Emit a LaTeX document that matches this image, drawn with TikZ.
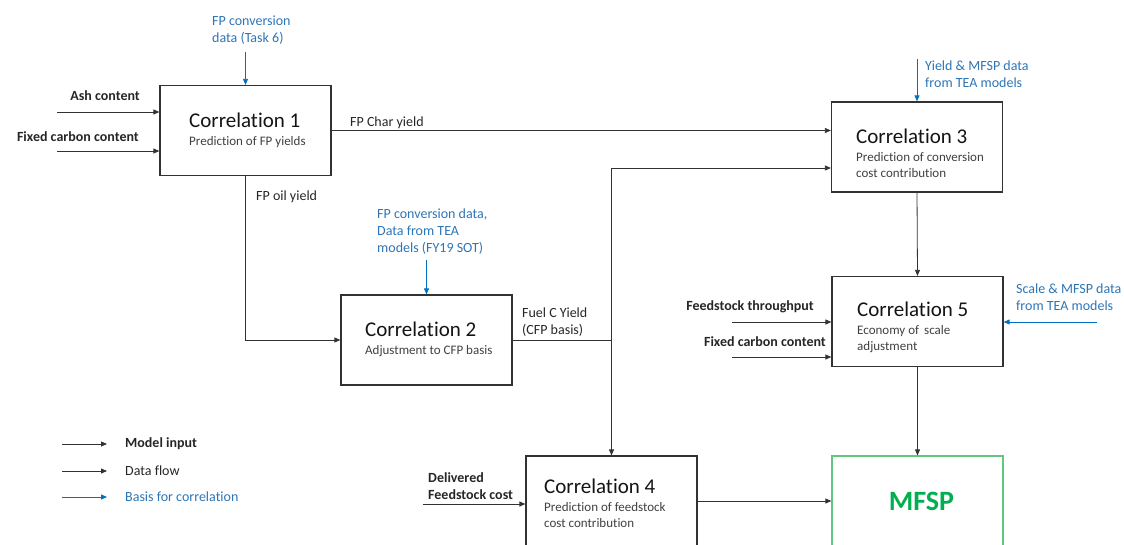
\documentclass[tikz,border=0pt]{standalone}
\usepackage{fontspec}
\setmainfont{Carlito}[Ligatures=NoCommon]
\usetikzlibrary{arrows.meta,calc}
\definecolor{bl}{RGB}{0,112,192}
\definecolor{bltext}{RGB}{46,117,182}
\definecolor{gr}{RGB}{0,176,80}
\definecolor{grb}{RGB}{95,200,125}
\definecolor{ln}{RGB}{50,50,50}
\newcommand\corrttl[1]{{\fontsize{21}{22}\selectfont\color{black!92}#1}}
\newcommand\corrsub[1]{{\fontsize{13}{16}\selectfont\color{black!75}#1}}
\begin{document}
\begin{tikzpicture}[x=1pt,y=-1pt,
  corr/.style={draw=ln, line width=1.2pt, minimum width=171pt, minimum height=90pt, inner sep=0pt},
  corrtext/.style={anchor=west, inner sep=0pt, align=left, font=\fontsize{13}{16}\selectfont},
  arr/.style={draw=ln, line width=0.8pt, -{Triangle[length=6pt,width=5pt]}},
  barr/.style={draw=bl, line width=0.8pt, -{Triangle[length=6pt,width=5pt]}},
  lab/.style={font=\fontsize{14}{17}\selectfont, inner sep=0pt, align=left, text=black!85},
  blab/.style={lab, text=bltext},
  ilab/.style={lab, font=\fontsize{14}{17}\selectfont\bfseries},
]
\useasboundingbox (0,0) rectangle (1124,544);
\clip (0,0) rectangle (1124,544);

% boxes
\node[corr] (c1) at (245.5,130.5) {};
\node[corrtext] (t1) at (189,130.5) {\corrttl{Correlation 1}\\[2pt]\corrsub{Prediction of FP yields}};
\node[corr] (c2) at (426.5,340) {};
\node[corrtext] (t2) at (365,339.5) {\corrttl{Correlation 2}\\[2pt]\corrsub{Adjustment to CFP basis}};
\node[corr] (c3) at (917,147) {};
\node[corrtext] (t3) at (856,153.5) {\corrttl{Correlation 3}\\[2pt]\corrsub{Prediction of conversion}\\\corrsub{cost contribution}};
\node[corr] (c5) at (917.5,321.5) {};
\node[corrtext] (t5) at (857,327) {\corrttl{Correlation 5}\\[2pt]\corrsub{Economy of\, scale}\\\corrsub{adjustment}};
\node[corr] (c4) at (611.5,501) {};
\node[corrtext] (t4) at (544,503) {\corrttl{Correlation 4}\\[2pt]\corrsub{Prediction of feedstock}\\\corrsub{cost contribution}};
\node[draw=grb, line width=1.2pt, minimum width=171pt, minimum height=90pt, inner sep=0pt,
      font=\fontsize{28}{30}\selectfont\bfseries, text=gr] (mfsp) at (917.5,501) {\hspace*{8pt}MFSP};

% model inputs
\coordinate (ash) at (57,112);
\draw[arr] (ash) -- (ash -| c1.west);
\node[ilab, anchor=east] (tash) at (140,96) {Ash content};
\coordinate (fc1) at (57,151);
\draw[arr] (fc1) -- (fc1 -| c1.west);
\node[ilab, anchor=east] (tfc1) at (139,137) {Fixed carbon content};

\coordinate (ft) at (732,322);
\draw[arr] (ft) -- (ft -| c5.west);
\node[ilab, anchor=east] (tft) at (814,307) {Feedstock throughput};
\coordinate (fc2) at (732,357);
\draw[arr] (fc2) -- (fc2 -| c5.west);
\node[ilab, anchor=east] (tfc2) at (826,342) {Fixed carbon content};

\coordinate (dfc) at (423,504);
\draw[arr] (dfc) -- (dfc -| c4.west);
\node[ilab, anchor=west] (tdfc) at (428,486) {Delivered\\Feedstock cost};

% basis arrows
\coordinate (b1) at (245.5,52);
\draw[barr] (b1) -- (c1.north);
\node[blab, anchor=west] (tb1) at (212,30) {FP conversion\\data (Task 6)};
\coordinate (b2) at (426.5,260);
\draw[barr] (b2) -- (c2.north);
\node[blab, anchor=west] (tb2) at (377,232) {FP conversion data,\\Data from TEA\\models (FY19 SOT)};
\coordinate (b3) at (917,59);
\draw[barr] (b3) -- (c3.north);
\node[blab, anchor=west] (tb3) at (925,74.5) {Yield \& MFSP data\\from TEA models};
\coordinate (b5) at (1097,322);
\draw[barr] (b5) -- (b5 -| c5.east);
\node[blab, anchor=west] (tb5) at (1016,297) {Scale \& MFSP data\\from TEA models};

% data flow
\draw[arr] (c1.east) -- (c1.east -| c3.west);
\node[lab, anchor=west] (tchar) at (350,123) {FP Char yield};
\draw[arr] (c1.south) |- (c2.west);
\node[lab, anchor=west] (toil) at (256,197) {FP oil yield};
\coordinate (j) at (c2.east -| c4.north);
\draw[arr] (c2.east) -- (j) -- (c4.north);
\draw[arr] (j) |- ($(c3.west)+(0,21)$);
\node[lab, anchor=west] (tfuel) at (522,322) {Fuel C Yield\\(CFP basis)};
\draw[arr] (c3.south) -- (c5.north);
\draw[arr] (c5.south) -- (mfsp.north);
\draw[arr] (c4.east) -- (mfsp.west);

% legend
\coordinate (l1a) at (62,444); \coordinate (l1b) at (107,444);
\draw[arr] (l1a) -- (l1b);
\node[ilab, anchor=west] (tl1) at (125,444) {Model input};
\coordinate (l2a) at (62,471); \coordinate (l2b) at (107,471);
\draw[arr] (l2a) -- (l2b);
\node[lab, anchor=west] (tl2) at (125,471) {Data flow};
\coordinate (l3a) at (62,497); \coordinate (l3b) at (107,497);
\draw[barr] (l3a) -- (l3b);
\node[blab, anchor=west] (tl3) at (125,497) {Basis for correlation};
\end{tikzpicture}
\end{document}
